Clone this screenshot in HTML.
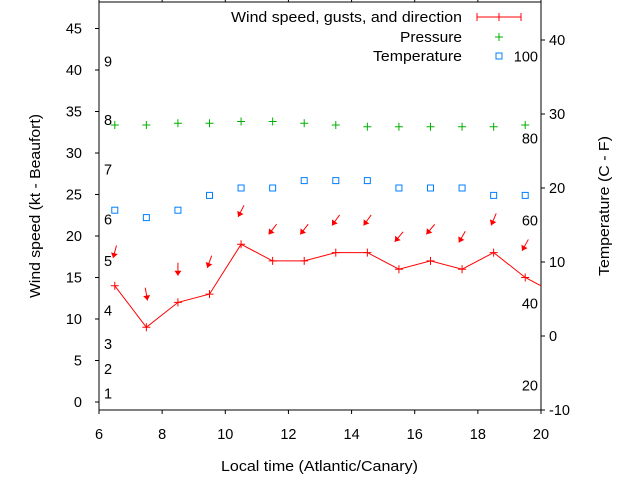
<!DOCTYPE html>
<html><head><meta charset="utf-8"><style>
body{margin:0;background:#fff;}
svg{display:block;font-family:"Liberation Sans",sans-serif;}
</style></head><body>
<svg id="chart" width="640" height="480" viewBox="0 0 640 480" xmlns="http://www.w3.org/2000/svg">
<defs><clipPath id="pc"><rect x="99" y="2" width="442" height="408"/></clipPath></defs>
<g id="axes"></g>
<g id="marks" clip-path="url(#pc)"></g>
<g id="legend"></g>
</svg>
<script>
const hours = [6.5,7.5,8.5,9.5,10.5,11.5,12.5,13.5,14.5,15.5,16.5,17.5,18.5,19.5,20.5];
const windSpeed = [14,9,12,13,19,17,17,18,18,16,17,16,18,15,13];
const gusts = [18.1,13,16,16.9,23,20.8,20.8,21.9,21.9,19.9,20.8,19.9,22,18.9];
const windDir = [15,350,0,20,27,38,38,36,36,40,40,30,23,29];
const temperature = [17,16,17,19,20,20,21,21,21,20,20,20,19,19];
const pressure = [1016,1016,1016.5,1016.5,1017,1017,1016.5,1016,1015.5,1015.5,1015.5,1015.5,1015.5,1016];
const xTicks = [6,8,10,12,14,16,18,20];
const yTicks = [0,5,10,15,20,25,30,35,40,45];
const y2Ticks = [-10,0,10,20,30,40];
const beaufort = [["1",1],["2",4],["3",7],["4",11],["5",17],["6",22],["7",28],["8",34],["9",41]];
const fahrenheit = [["20",-6.7],["40",4.4],["60",15.6],["80",26.7],["100",37.8]];

const X = h => 99 + (h-6)*442/14;
const Y = v => 402 - v*8.3;
const Y2 = t => 336 - t*7.4;
const YP = p => 125 - (p-1016)*3.5;
const NS='http://www.w3.org/2000/svg';
const FS=14.5;
function mk(tag, attrs, parent, text){
  const e=document.createElementNS(NS,tag);
  for(const k in attrs) e.setAttribute(k,attrs[k]);
  if(text!==undefined) e.textContent=text;
  parent.appendChild(e); return e;
}
const ax=document.getElementById('axes'), mg=document.getElementById('marks'), lg=document.getElementById('legend');
let e;
e=mk('rect',{x:99,y:2,width:442,height:408,fill:'none',stroke:'#000','stroke-width':1},ax);


xTicks.forEach(t=>{
  mk('line',{x1:X(t),x2:X(t),y1:410,y2:414,stroke:'#000'},ax);
  mk('line',{x1:X(t),x2:X(t),y1:2,y2:-2,stroke:'#000'},ax);
  e=mk('text',{x:X(t),y:439,'text-anchor':'middle','font-size':FS},ax,String(t));
  
  
});
yTicks.forEach(t=>{
  mk('line',{x1:95,x2:99,y1:Y(t),y2:Y(t),stroke:'#000'},ax);
  e=mk('text',{x:82,y:Y(t)+5,'text-anchor':'end','font-size':FS},ax,String(t));
  
  
});
y2Ticks.forEach(t=>{
  mk('line',{x1:541,x2:545,y1:Y2(t),y2:Y2(t),stroke:'#000'},ax);
  e=mk('text',{x:549,y:Y2(t)+5,'font-size':FS},ax,String(t));
  
  
});
beaufort.forEach(b=>{
  e=mk('text',{x:104,y:Y(b[1])+5,'font-size':FS},ax,b[0]);
  
  
});
fahrenheit.forEach(f=>{
  e=mk('text',{x:538,y:Y2(f[1])+5,'text-anchor':'end','font-size':FS},ax,f[0]);
  
  
});
e=mk('text',{x:221,y:471,'font-size':FS,textLength:197,lengthAdjust:'spacingAndGlyphs'},ax,'Local time (Atlantic/Canary)');


e=mk('text',{x:0,y:0,'text-anchor':'middle','font-size':FS,textLength:184,lengthAdjust:'spacingAndGlyphs',transform:'translate(40,206) rotate(-90)'},ax,'Wind speed (kt - Beaufort)');


e=mk('text',{x:0,y:0,'text-anchor':'middle','font-size':FS,textLength:140,lengthAdjust:'spacingAndGlyphs',transform:'translate(609,206) rotate(-90)'},ax,'Temperature (C - F)');



e=mk('polyline',{points:hours.map((h,i)=>X(h)+','+Y(windSpeed[i])).join(' '),fill:'none',stroke:'#f00','stroke-width':1},mg);


hours.forEach((h,i)=>{
  const x=X(h),y=Y(windSpeed[i]);
  e=mk('path',{d:`M${x-4},${y}H${x+4}M${x},${y-4}V${y+4}`,stroke:'#f00'},mg);
  
  
});
gusts.forEach((g,i)=>{
  const cx=X(hours[i]), cy=Y(g), a=windDir[i]*Math.PI/180, L=6.5;
  const dx=-Math.sin(a), dy=Math.cos(a);
  const tx=cx-dx*L, ty=cy-dy*L, hx=cx+dx*L, hy=cy+dy*L;
  const px=-dy, py=dx;
  const g1=mk('g',{},mg);
  
  
  mk('line',{x1:tx,y1:ty,x2:hx,y2:hy,stroke:'#f00'},g1);
  const bx=hx-dx*5, by=hy-dy*5;
  mk('polygon',{points:`${hx},${hy} ${bx+px*3.5},${by+py*3.5} ${bx-px*3.5},${by-py*3.5}`,fill:'#f00'},g1);
});
pressure.forEach((p,i)=>{
  const x=X(hours[i]),y=YP(p);
  e=mk('path',{d:`M${x-4},${y}H${x+4}M${x},${y-4}V${y+4}`,stroke:'#00b000'},mg);
  
  
});
temperature.forEach((t,i)=>{
  e=mk('rect',{x:X(hours[i])-3,y:Y2(t)-3,width:6,height:6,fill:'none',stroke:'#0080ff'},mg);
  
  
});
e=mk('text',{x:231,y:22,'font-size':FS,textLength:231,lengthAdjust:'spacingAndGlyphs'},lg,'Wind speed, gusts, and direction');


mk('path',{d:'M477,17H521M477,13V21M521,13V21M499,13V21',stroke:'#f00',fill:'none'},lg);
e=mk('text',{x:400,y:42,'font-size':FS,textLength:62,lengthAdjust:'spacingAndGlyphs'},lg,'Pressure');


mk('path',{d:'M495,37H503M499,33V41',stroke:'#00b000'},lg);
e=mk('text',{x:373,y:61,'font-size':FS,textLength:89,lengthAdjust:'spacingAndGlyphs'},lg,'Temperature');


mk('rect',{x:496,y:53,width:6,height:6,fill:'none',stroke:'#0080ff'},lg);
</script>
</body></html>
